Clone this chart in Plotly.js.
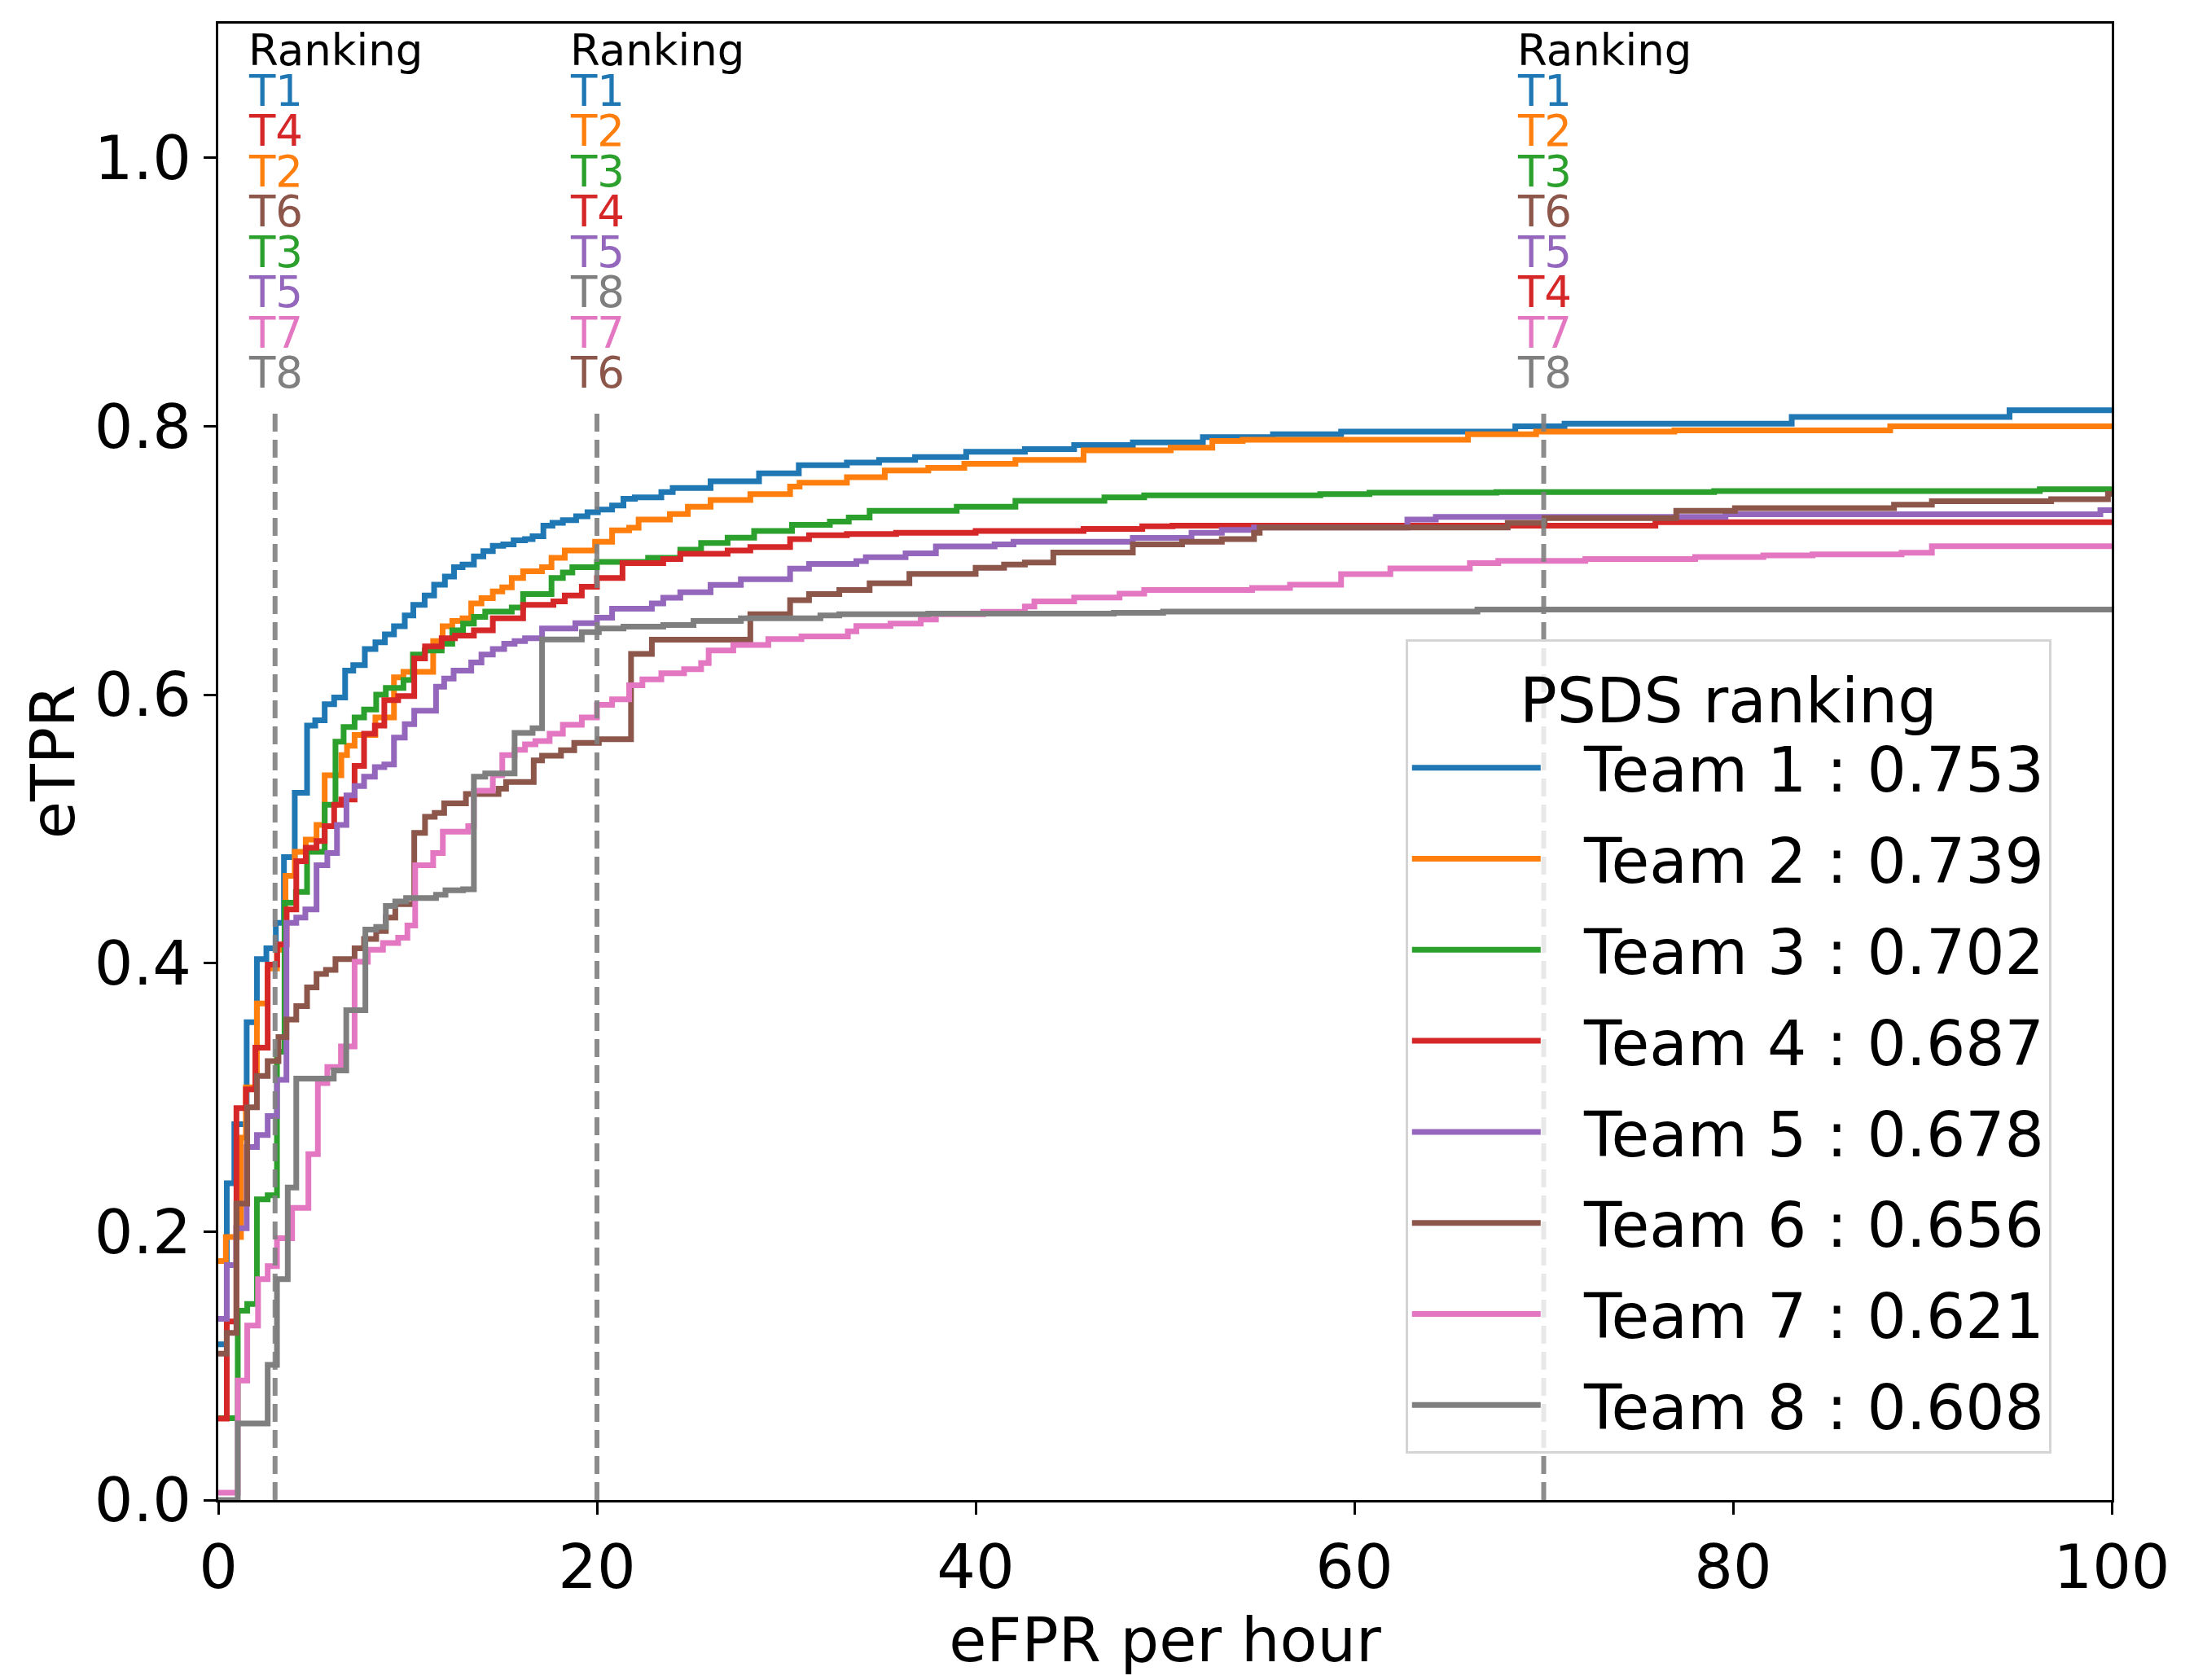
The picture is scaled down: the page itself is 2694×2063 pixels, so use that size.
<!DOCTYPE html>
<html>
<head>
<meta charset="utf-8">
<script src="https://cdn.plot.ly/plotly-3.0.1.min.js"></script>
<style>
  html, body { margin: 0; padding: 0; background: #fff; }
  #plot { width: 2694px; height: 2063px; }
</style>
</head>
<body>
<div id="plot"></div>
<script>
const plotDiv = document.getElementById("plot");

const teams = ["Team 1", "Team 2", "Team 3", "Team 4", "Team 5", "Team 6", "Team 7", "Team 8"];
const psds = [0.753, 0.739, 0.702, 0.687, 0.678, 0.656, 0.621, 0.608];
const colors = ["#1f77b4", "#ff7f0e", "#2ca02c", "#d62728", "#9467bd", "#8c564b", "#e377c2", "#7f7f7f"];

// step curves (eFPR per hour, eTPR)
const t1x = [0, 0.45, 0.85, 1.5, 2.04, 2.54, 3.04, 3.47, 4.04, 4.69, 5.12, 5.62, 6.12, 6.7, 7.13, 7.74, 8.3, 8.8, 9.28, 9.85, 10.3, 10.9, 11.4, 11.97, 12.45, 12.9, 13.5, 14.0, 14.5, 15.05, 15.6, 16.2, 16.6, 17.17, 17.65, 18.2, 18.9, 19.5, 20.05, 20.8, 21.4, 22.0, 23.4, 24.0, 26.0, 28.56, 30.66, 33.2, 34.9, 36.8, 39.5, 42.6, 45.2, 48.3, 52.0, 55.7, 59.3, 68.5, 71.1, 83.1, 94.6, 100];
const t1y = [0.116, 0.236, 0.28, 0.356, 0.403, 0.411, 0.43, 0.479, 0.527, 0.577, 0.581, 0.593, 0.598, 0.618, 0.622, 0.634, 0.639, 0.645, 0.651, 0.659, 0.667, 0.674, 0.682, 0.688, 0.695, 0.697, 0.703, 0.707, 0.711, 0.712, 0.715, 0.716, 0.718, 0.726, 0.728, 0.73, 0.733, 0.736, 0.738, 0.741, 0.746, 0.747, 0.751, 0.754, 0.759, 0.765, 0.771, 0.773, 0.775, 0.777, 0.781, 0.783, 0.786, 0.788, 0.792, 0.794, 0.796, 0.8, 0.802, 0.807, 0.812, 0.812];

const t2x = [0, 0.4, 1.2, 1.46, 2.04, 2.6, 3.1, 3.55, 4.04, 4.62, 5.19, 5.62, 6.5, 6.8, 7.2, 8.3, 9.28, 9.78, 11.35, 11.85, 12.36, 12.9, 13.36, 13.9, 14.5, 15.0, 15.5, 16.1, 17.1, 17.6, 18.3, 19.9, 20.8, 21.7, 22.2, 23.85, 24.8, 26.0, 28.1, 30.2, 30.7, 33.2, 35.2, 37.5, 39.4, 42.1, 45.7, 50.3, 52.5, 54.1, 66.0, 69.6, 76.9, 88.3, 100];
const t2y = [0.178, 0.196, 0.27, 0.3075, 0.37, 0.396, 0.41, 0.465, 0.483, 0.492, 0.503, 0.54, 0.555, 0.562, 0.57, 0.583, 0.613, 0.617, 0.64, 0.651, 0.655, 0.657, 0.668, 0.672, 0.677, 0.68, 0.687, 0.692, 0.695, 0.702, 0.7075, 0.714, 0.7224, 0.7245, 0.7305, 0.7346, 0.74, 0.745, 0.7494, 0.755, 0.758, 0.762, 0.767, 0.769, 0.772, 0.775, 0.782, 0.784, 0.789, 0.79, 0.794, 0.796, 0.797, 0.8, 0.8];

const t3x = [0, 1.03, 1.53, 2.04, 2.61, 3.1, 3.5, 4.1, 4.69, 5.62, 6.19, 6.62, 7.2, 7.7, 8.34, 8.85, 9.78, 10.28, 10.9, 11.8, 12.36, 12.93, 13.5, 14.1, 15.5, 16.1, 17.6, 18.2, 18.7, 20.0, 22.7, 24.4, 25.5, 26.9, 28.3, 30.3, 32.3, 33.3, 34.4, 39.0, 42.1, 46.8, 48.9, 58.2, 60.8, 67.5, 79.0, 96.2, 100];
const t3y = [0.061, 0.141, 0.146, 0.224, 0.227, 0.334, 0.445, 0.453, 0.483, 0.518, 0.565, 0.576, 0.583, 0.589, 0.6, 0.605, 0.611, 0.63, 0.633, 0.638, 0.648, 0.653, 0.658, 0.662, 0.665, 0.675, 0.687, 0.691, 0.695, 0.699, 0.702, 0.708, 0.713, 0.717, 0.722, 0.7265, 0.729, 0.732, 0.737, 0.74, 0.7445, 0.747, 0.7485, 0.7495, 0.7505, 0.751, 0.7517, 0.7531, 0.7531];

const t4x = [0, 0.45, 0.96, 1.46, 1.96, 2.61, 3.11, 3.61, 4.12, 4.62, 5.19, 5.62, 6.12, 6.5, 7.2, 7.7, 8.27, 8.77, 9.5, 10.35, 10.92, 11.8, 12.5, 13.5, 14.5, 16.1, 17.7, 18.3, 19.2, 20.0, 21.35, 23.5, 24.4, 26.9, 28.1, 30.2, 31.2, 33.2, 35.8, 40.0, 45.7, 48.8, 50.4, 75.9, 100];
const t4y = [0.0607, 0.133, 0.292, 0.306, 0.337, 0.399, 0.414, 0.44, 0.476, 0.486, 0.491, 0.502, 0.518, 0.522, 0.547, 0.571, 0.577, 0.596, 0.599, 0.627, 0.636, 0.642, 0.644, 0.648, 0.657, 0.667, 0.6696, 0.674, 0.6805, 0.687, 0.698, 0.701, 0.705, 0.7075, 0.71, 0.716, 0.7188, 0.7198, 0.7207, 0.722, 0.7236, 0.7255, 0.726, 0.7285, 0.7285];

const t5x = [0, 0.45, 0.95, 1.5, 2.04, 2.61, 3.1, 3.6, 4.12, 4.6, 5.19, 5.76, 6.27, 6.77, 7.2, 7.7, 8.27, 8.77, 9.28, 9.85, 10.35, 11.5, 11.93, 12.43, 13.36, 13.9, 14.5, 15.1, 15.65, 16.2, 17.1, 18.86, 20.0, 20.8, 22.9, 23.5, 24.4, 26.0, 27.6, 30.2, 31.2, 33.7, 34.2, 36.3, 37.9, 41.0, 42.0, 48.3, 51.4, 53.0, 54.7, 62.8, 64.3, 79.6, 99.4, 100];
const t5y = [0.135, 0.175, 0.2025, 0.263, 0.272, 0.286, 0.313, 0.43, 0.434, 0.44, 0.473, 0.482, 0.503, 0.525, 0.532, 0.539, 0.546, 0.548, 0.568, 0.578, 0.588, 0.606, 0.612, 0.618, 0.624, 0.63, 0.634, 0.638, 0.64, 0.642, 0.6493, 0.6533, 0.6574, 0.664, 0.668, 0.6723, 0.6764, 0.6818, 0.686, 0.694, 0.6975, 0.6995, 0.7024, 0.7053, 0.7105, 0.712, 0.714, 0.7169, 0.7207, 0.7227, 0.7246, 0.7305, 0.7325, 0.7345, 0.7375, 0.7375];

const t6x = [0, 0.45, 0.96, 1.53, 2.04, 2.61, 3.18, 3.6, 4.12, 4.69, 5.19, 5.69, 6.19, 7.2, 7.7, 8.34, 8.85, 9.35, 10.35, 10.92, 11.43, 11.93, 13.08, 14.8, 15.2, 16.66, 17.1, 18.1, 18.8, 20.1, 21.8, 22.9, 28.1, 30.2, 31.2, 32.8, 34.4, 36.5, 40.0, 41.5, 42.6, 44.1, 48.3, 50.9, 53.0, 54.7, 55.0, 68.1, 70.05, 77.0, 80.1, 88.5, 90.5, 96.8, 99.8, 100];
const t6y = [0.109, 0.1245, 0.2209, 0.2926, 0.316, 0.327, 0.345, 0.358, 0.368, 0.382, 0.392, 0.395, 0.403, 0.411, 0.418, 0.424, 0.434, 0.444, 0.497, 0.509, 0.512, 0.519, 0.526, 0.53, 0.535, 0.551, 0.5546, 0.5587, 0.5641, 0.5668, 0.6304, 0.641, 0.66, 0.6705, 0.675, 0.678, 0.683, 0.69, 0.6946, 0.697, 0.6985, 0.706, 0.712, 0.714, 0.716, 0.7207, 0.7246, 0.728, 0.7315, 0.737, 0.739, 0.7416, 0.7442, 0.7456, 0.7496, 0.7496];

const t7x = [0, 1.03, 1.53, 2.1, 2.61, 3.1, 3.9, 4.76, 5.26, 5.76, 6.48, 7.2, 7.9, 8.7, 9.5, 9.99, 10.4, 11.35, 11.86, 13.2, 13.5, 14.5, 15.0, 15.65, 16.2, 16.75, 17.5, 18.2, 19.2, 20.0, 20.8, 21.7, 22.4, 23.4, 24.6, 25.5, 25.9, 27.2, 29.05, 30.8, 33.25, 33.7, 35.5, 37.1, 37.9, 40.4, 42.6, 43.1, 45.2, 47.6, 48.9, 54.6, 56.6, 59.3, 61.9, 66.1, 67.6, 72.2, 78.0, 81.6, 84.2, 88.9, 90.5, 100];
const t7y = [0.0055, 0.089, 0.13, 0.1646, 0.1743, 0.195, 0.2177, 0.2577, 0.3107, 0.3226, 0.338, 0.401, 0.41, 0.415, 0.419, 0.428, 0.473, 0.482, 0.498, 0.502, 0.5285, 0.54, 0.555, 0.559, 0.563, 0.5655, 0.571, 0.5776, 0.583, 0.5925, 0.5966, 0.607, 0.6115, 0.616, 0.619, 0.6236, 0.633, 0.637, 0.6415, 0.6434, 0.6473, 0.6512, 0.653, 0.656, 0.66, 0.6618, 0.6657, 0.6695, 0.6724, 0.6753, 0.678, 0.6796, 0.682, 0.6898, 0.6941, 0.698, 0.6997, 0.701, 0.7026, 0.7038, 0.7046, 0.7058, 0.7107, 0.7107];

const t8x = [0, 1.03, 2.61, 3.1, 3.67, 4.12, 6.1, 6.76, 7.77, 8.34, 8.85, 9.35, 9.92, 11.5, 12.0, 12.93, 13.5, 14.1, 15.65, 16.6, 17.1, 19.2, 20.1, 21.4, 23.5, 25.1, 27.6, 31.8, 32.8, 37.5, 47.3, 49.9, 66.5, 100];
const t8y = [0, 0.057, 0.1007, 0.1645, 0.2328, 0.314, 0.32, 0.365, 0.425, 0.427, 0.4426, 0.446, 0.4485, 0.451, 0.4543, 0.455, 0.539, 0.5413, 0.5715, 0.575, 0.6412, 0.6466, 0.6493, 0.6507, 0.652, 0.655, 0.657, 0.659, 0.66, 0.6605, 0.661, 0.662, 0.6635, 0.6635];

// ranking checkpoints (eFPR per hour) and team order at each
const rankX = [3, 20, 70];
const rankAt3 = [1, 4, 2, 6, 3, 5, 7, 8];
const rankAt20 = [1, 2, 3, 4, 5, 8, 7, 6];
const rankAt70 = [1, 2, 3, 6, 5, 4, 7, 8];
const dashTop = 0.815;

const xs = [t1x, t2x, t3x, t4x, t5x, t6x, t7x, t8x];
const ys = [t1y, t2y, t3y, t4y, t5y, t6y, t7y, t8y];
const rankings = [rankAt3, rankAt20, rankAt70];

const font = "DejaVu Sans, sans-serif";
const gap = "\u00a0\u00a0";

const traces = teams.map((t, i) => ({
  x: xs[i],
  y: ys[i],
  type: "scatter",
  mode: "lines",
  name: gap + t + " : " + psds[i].toFixed(3),
  legendgroup: "g" + i,
  line: { color: colors[i], width: 7, shape: "hv" },
}));

const shapes = rankX.map((xv) => ({
  type: "line",
  xref: "x",
  yref: "y",
  x0: xv,
  x1: xv,
  y0: 0,
  y1: dashTop,
  layer: "above",
  line: { color: "rgba(128,128,128,0.9)", width: 6, dash: "22px,10px" },
}));

const annotations = [];
rankX.forEach((xv, k) => {
  annotations.push({
    x: xv - 1.5, y: 1.08, xref: "x", yref: "y",
    xanchor: "left", yanchor: "middle", showarrow: false,
    text: "Ranking", font: { family: font, size: 53, color: "#000" },
  });
  rankings[k].forEach((n, j) => {
    annotations.push({
      x: xv - 1.5, y: 1.05 - 0.03 * j, xref: "x", yref: "y",
      xanchor: "left", yanchor: "middle", showarrow: false,
      text: "T" + n, font: { family: font, size: 53, color: colors[n - 1] },
    });
  });
});

const axisCommon = {
  showline: true,
  linecolor: "#000",
  linewidth: 3,
  mirror: true,
  ticks: "outside",
  ticklen: 15,
  tickwidth: 3,
  tickcolor: "#000",
  showgrid: false,
  zeroline: false,
  tickfont: { family: font, size: 75, color: "#000" },
};

const layout = {
  width: 2694,
  height: 2063,
  paper_bgcolor: "#fff",
  plot_bgcolor: "#fff",
  margin: { l: 268, r: 101, t: 29, b: 221 },
  font: { family: font, color: "#000" },
  xaxis: Object.assign({}, axisCommon, {
    range: [0, 100],
    dtick: 20,
    title: { text: "eFPR per hour", font: { family: font, size: 75 }, standoff: 21 },
  }),
  yaxis: Object.assign({}, axisCommon, {
    range: [0, 1.1],
    tickvals: [0, 0.2, 0.4, 0.6, 0.8, 1.0],
    tickformat: ".1f",
    title: { text: "eTPR", font: { family: font, size: 75 }, standoff: 0 },
  }),
  legend: {
    x: 0.627,
    y: 0.583,
    xanchor: "left",
    yanchor: "top",
    bgcolor: "rgba(255,255,255,0.8)",
    bordercolor: "#d4d4d4",
    borderwidth: 3,
    itemwidth: 158,
    tracegroupgap: 10,
    font: { family: font, size: 76, color: "#000" },
    title: { text: "PSDS ranking", side: "top center", font: { family: font, size: 76 } },
  },
  shapes: shapes,
  annotations: annotations,
};

Plotly.newPlot(plotDiv, traces, layout, { displayModeBar: false, staticPlot: true });
</script>
</body>
</html>
